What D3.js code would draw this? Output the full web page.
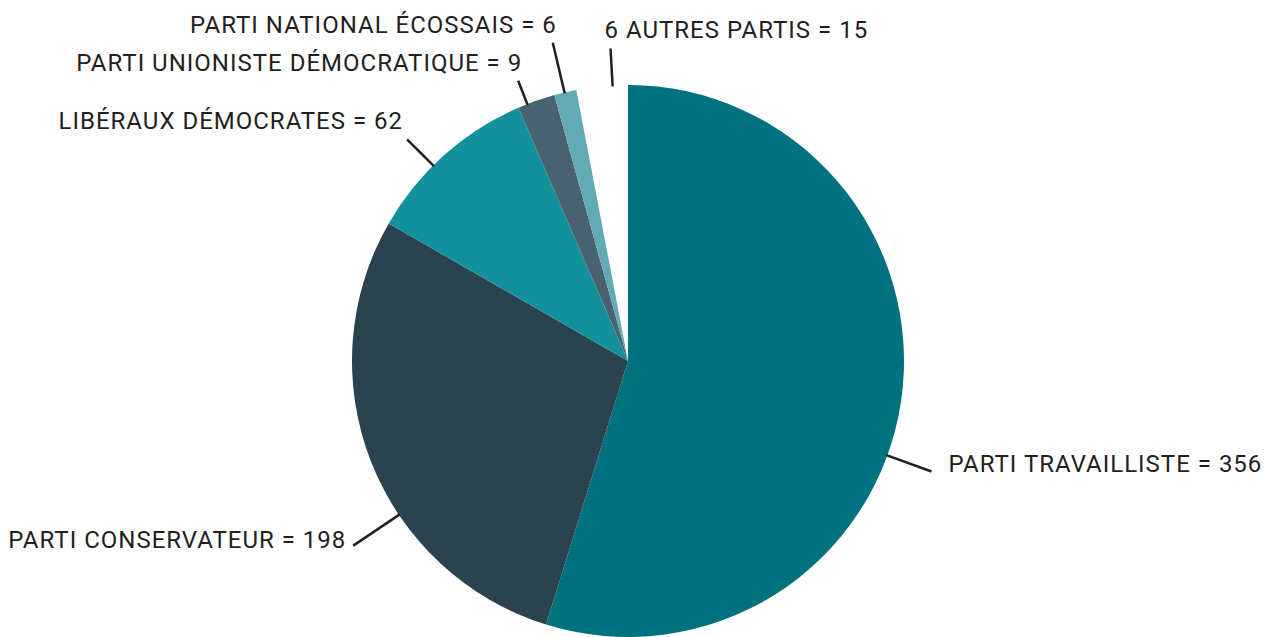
<!DOCTYPE html>
<html>

<head>
  <meta charset="utf8">
  <script src="https://d3js.org/d3.v7.min.js"></script>
  <style>
    body {
      margin: 0;
      background: #fff;
    }

    .label {
      font-family: Roboto, "Noto Sans", sans-serif;
      font-size: 24px;
      letter-spacing: 1px;
      fill: #231f20;
    }

    .leader {
      stroke: #231f20;
      stroke-width: 2.5;
    }
  </style>
</head>

<body>
  <svg id="chart" width="1271" height="637"></svg>
  <script>
    // parties, clockwise from 12 o'clock
    var parties = [
      "PARTI TRAVAILLISTE",
      "PARTI CONSERVATEUR",
      "LIBÉRAUX DÉMOCRATES",
      "PARTI UNIONISTE DÉMOCRATIQUE",
      "PARTI NATIONAL ÉCOSSAIS",
      "6 AUTRES PARTIS"
    ];
    // seats as printed in the labels
    var seats = [356, 198, 62, 9, 6, 15];
    // slice share (%) as drawn in the picture
    var drawnShare = [54.8, 28.5, 10.2, 2.2, 1.3, 3.0];
    var colors = ['#00717f', '#2b424f', '#12919c', '#4a6170', '#62abb4', 'none'];

    // leader-line layout: angle (deg from top), outer radius, text offset, anchor
    var labelLayout = [
      { angle: 110, outer: 323, dx: 17, dy: 1, anchor: 'start' },
      { angle: 236.1, outer: 331, dx: -7, dy: 2, anchor: 'end' },
      { angle: 315.1, outer: 313, dx: -4, dy: -10, anchor: 'end' },
      { angle: 338.6, outer: 301, dx: 4, dy: -10, anchor: 'end' },
      { angle: 346.7, outer: 327, dx: 4, dy: -10, anchor: 'end' },
      { angle: 356.8, outer: 313, dx: -6, dy: -11, anchor: 'start' }
    ];

    var chart = d3.select('#chart');
    var cx = 628, cy = 361, radius = 276;

    var pie = d3.pie()
      .sort(null)
      .value((d) => d.share);

    var arc = d3.arc()
      .innerRadius(0)
      .outerRadius(radius);

    var data = parties.map((p, i) => ({ party: p, seats: seats[i], share: drawnShare[i], i: i }));

    var group = chart.append('g')
      .attr('transform', 'translate(' + cx + ', ' + cy + ')');

    group.selectAll('path')
      .data(pie(data))
      .enter()
      .append('path')
      .attr('d', arc)
      .attr('fill', (d) => colors[d.data.i]);

    function polar(angle, r) {
      var a = angle * Math.PI / 180;
      return [r * Math.sin(a), -r * Math.cos(a)];
    }

    var labels = group.selectAll('.lab')
      .data(data)
      .enter()
      .append('g')
      .attr('class', 'lab');

    labels.append('line')
      .attr('class', 'leader')
      .each(function (d) {
        var l = labelLayout[d.i];
        var p0 = polar(l.angle, radius - 1);
        var p1 = polar(l.angle, l.outer);
        d3.select(this)
          .attr('x1', p0[0]).attr('y1', p0[1])
          .attr('x2', p1[0]).attr('y2', p1[1]);
      });

    labels.append('text')
      .attr('class', 'label')
      .each(function (d) {
        var l = labelLayout[d.i];
        var p1 = polar(l.angle, l.outer);
        d3.select(this)
          .attr('x', p1[0] + l.dx)
          .attr('y', p1[1] + l.dy)
          .attr('text-anchor', l.anchor);
      })
      .text((d) => d.party + ' = ' + d.seats);
  </script>
</body>

</html>
